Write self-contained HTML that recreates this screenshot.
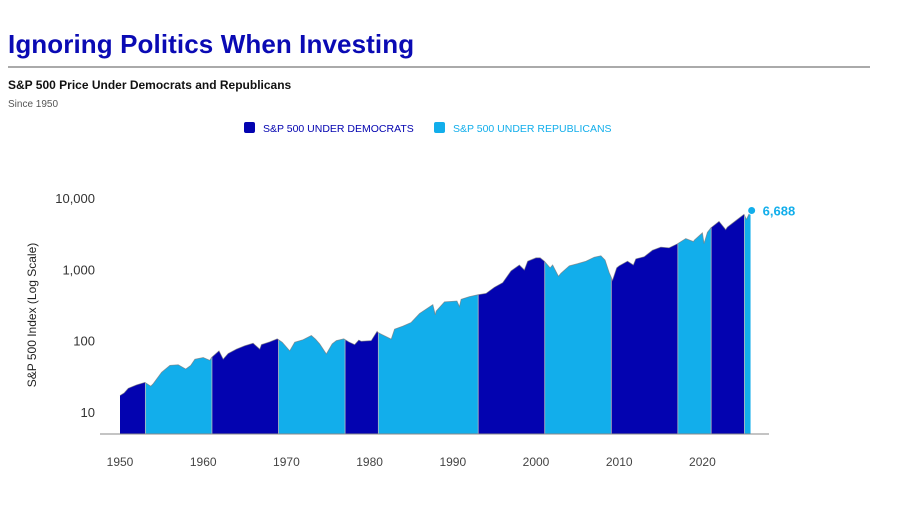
<!DOCTYPE html>
<html><head><meta charset="utf-8"><style>
body{margin:0;background:#fff;width:909px;height:521px;overflow:hidden;font-family:"Liberation Sans",sans-serif}
</style></head><body>
<svg width="909" height="521" font-family="Liberation Sans, sans-serif">
<text x="8" y="53" font-size="26" font-weight="bold" fill="#0a0ab4" letter-spacing="0.1">Ignoring Politics When Investing</text>
<line x1="8" y1="67" x2="870" y2="67" stroke="#555" stroke-width="1"/>
<text x="8" y="89" font-size="12" font-weight="bold" fill="#111">S&amp;P 500 Price Under Democrats and Republicans</text>
<text x="8" y="107" font-size="10" fill="#555">Since 1950</text>
<g>
<rect x="244" y="122" width="11" height="11" rx="2" fill="#0303b0"/>
<text x="263" y="132" font-size="10.5" fill="#0303b0">S&amp;P 500 UNDER DEMOCRATS</text>
<rect x="434" y="122" width="11" height="11" rx="2" fill="#12aeeb"/>
<text x="453" y="132" font-size="10.5" fill="#12aeeb">S&amp;P 500 UNDER REPUBLICANS</text>
</g>
<text transform="translate(36,315) rotate(-90)" text-anchor="middle" font-size="12" fill="#222">S&amp;P 500 Index (Log Scale)</text>
<g id="plot"></g>
</svg>
<script>
const years=[1950,1950.5,1951,1952,1953,1953.7,1954,1955,1956,1957,1957.9,1958.5,1959,1960,1960.8,1961,1961.9,1962.4,1963,1964,1965,1966,1966.8,1967,1968,1968.9,1969.5,1970.4,1971,1972,1973,1973.5,1974,1974.8,1975.5,1976,1976.9,1977.5,1978.2,1978.7,1979,1980.2,1980.9,1981,1982.6,1983,1984,1985,1986,1987.6,1987.9,1988,1989,1990.5,1990.8,1991,1992,1993,1994,1995,1996,1997,1998,1998.6,1999,2000,2000.5,2001,2001.7,2002,2002.7,2003,2004,2005,2006,2007,2007.8,2008.3,2008.8,2009.2,2009.7,2010,2011,2011.7,2012,2013,2014,2015,2016,2017,2018,2018.95,2019,2020,2020.2,2020.6,2021,2022,2022.8,2023,2024,2025,2025.3,2025.8];
const prices=[17,18.5,21.5,24,26,23,25,36,45,46,40,45,55,58,53,58,72,55,66,76,85,92,76,88,96,106,95,72,95,103,118,105,90,65,90,100,106,96,88,102,98,100,135,130,105,145,160,180,240,320,230,260,350,360,300,380,415,440,460,560,650,950,1150,980,1300,1450,1450,1300,1050,1150,800,880,1120,1200,1300,1480,1550,1350,900,700,1050,1120,1300,1150,1400,1500,1850,2050,2000,2280,2700,2450,2550,3250,2300,3300,3800,4700,3600,3900,4800,5900,5000,6688];
const termStarts=[1950,1953.05,1961.05,1969.05,1977.05,1981.05,1993.05,2001.05,2009.05,2017.05,2021.05,2025.05];
const termEnds=[1953.05,1961.05,1969.05,1977.05,1981.05,1993.05,2001.05,2009.05,2017.05,2021.05,2025.05,2025.8];
const termParty=["D","R","D","R","D","R","D","R","D","R","D","R"];
const yTicks=[10,100,1000,10000];
const yTickLabels=["10","100","1,000","10,000"];
const xTicks=[1950,1960,1970,1980,1990,2000,2010,2020];
const lastLabel="6,688";

const NS="http://www.w3.org/2000/svg";
const xs=t=>120+(t-1950)*8.32;
const ys=v=>412-(Math.log10(v)-1)*71.33;
const base=434;
const plot=document.getElementById('plot');
function mk(tag,attrs,parent){const e=document.createElementNS(NS,tag);for(const k in attrs)e.setAttribute(k,attrs[k]);(parent||plot).appendChild(e);return e;}
const defs=mk('defs',{});
let topPath="";years.forEach((t,i)=>{topPath+=(i?"L":"M")+xs(t).toFixed(2)+","+ys(prices[i]).toFixed(2);});
const area=topPath+"L"+xs(years[years.length-1])+","+base+"L"+xs(years[0])+","+base+"Z";
const ca=mk('clipPath',{id:'all'},defs);mk('path',{d:area},ca);
termStarts.forEach((s,i)=>{
  const cp=mk('clipPath',{id:'c'+i},defs);
  mk('rect',{x:xs(s),y:0,width:xs(termEnds[i])-xs(s),height:base},cp);
  const p=mk('path',{d:area,fill:termParty[i]==="D"?"#0303b0":"#12aeeb","clip-path":"url(#c"+i+")"});
  
  
});
termStarts.slice(1).forEach(s=>{
  const l=mk('line',{x1:xs(s),x2:xs(s),y1:150,y2:base,stroke:"#bbb","stroke-width":0.8,"clip-path":"url(#all)"});
  
  
});
const tl=mk('path',{d:topPath,fill:"none",stroke:"#777","stroke-width":0.8,opacity:0.7});


const ax=mk('line',{x1:100,x2:769,y1:base,y2:base,stroke:"#888","stroke-width":1});


yTicks.forEach((v,i)=>{
  const t=mk('text',{x:95,y:ys(v)+5,"text-anchor":"end","font-size":13,fill:"#333"});
  t.textContent=yTickLabels[i];
  
  
});
xTicks.forEach(v=>{
  const t=mk('text',{x:xs(v),y:466,"text-anchor":"middle","font-size":12,fill:"#444"});
  t.textContent=String(v);
  
  
});
const lx=xs(years[years.length-1]),ly=ys(prices[prices.length-1]);
const dot=mk('circle',{cx:lx+1,cy:ly,r:4,fill:"#12aeeb",stroke:"#fff","stroke-width":1});


const lb=mk('text',{x:lx+12,y:ly+5,"font-size":13,"font-weight":"bold",fill:"#12aeeb"});
lb.textContent=lastLabel;


</script>
</body></html>
